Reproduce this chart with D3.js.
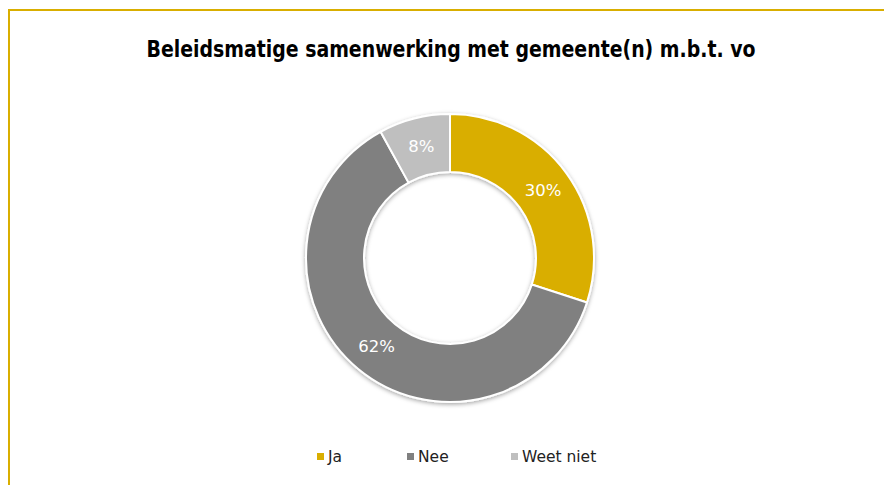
<!DOCTYPE html>
<html>
<head>
<meta charset="utf-8">
<script src="https://cdn.jsdelivr.net/npm/d3@7"></script>
<style>
  body { margin: 0; background: #fff; }
  svg { display: block; }
</style>
</head>
<body>
<div id="chart"></div>
<script>
// Chart data
const categories = ["Ja", "Nee", "Weet niet"];
const percentages = [30, 62, 8];
const colors = ["#D9AE00", "#808080", "#BFBFBF"];
const chartTitle = "Beleidsmatige samenwerking met gemeente(n) m.b.t. vo";

const width = 884, height = 485;

const svg = d3.select("#chart").append("svg")
  .attr("width", width)
  .attr("height", height);

// drop shadow like the office chart
const defs = svg.append("defs");
const filter = defs.append("filter").attr("id", "shadow")
  .attr("x", "-20%").attr("y", "-20%").attr("width", "140%").attr("height", "140%");
filter.append("feDropShadow")
  .attr("dx", 0).attr("dy", 1.5).attr("stdDeviation", 2)
  .attr("flood-color", "#000").attr("flood-opacity", 0.35);

// yellow frame (top and left)
svg.append("line")
  .attr("x1", 8.5).attr("x2", width).attr("y1", 10).attr("y2", 10)
  .attr("stroke", "#D9AE00").attr("stroke-width", 2);
svg.append("line")
  .attr("x1", 9).attr("x2", 9).attr("y1", 9).attr("y2", height)
  .attr("stroke", "#D9AE00").attr("stroke-width", 2);

// title (condensed look, squeezed to the reference width)
svg.append("text")
  .attr("x", 451).attr("y", 57)
  .attr("text-anchor", "middle")
  .attr("font-family", "'DejaVu Sans Condensed', 'DejaVu Sans', sans-serif")
  .attr("font-weight", "bold")
  .attr("font-size", 22.5)
  .attr("textLength", 609)
  .attr("lengthAdjust", "spacingAndGlyphs")
  .attr("fill", "#000")
  .text(chartTitle);

// donut
const cx = 450, cy = 258;
const outerR = 144, innerR = 86;

const data = categories.map((c, i) => ({ name: c, value: percentages[i], color: colors[i] }));

const pie = d3.pie().value(d => d.value).sort(null);
const arc = d3.arc().innerRadius(innerR).outerRadius(outerR);
const labelArc = d3.arc().innerRadius((innerR + outerR) / 2).outerRadius((innerR + outerR) / 2);

const g = svg.append("g").attr("transform", `translate(${cx},${cy})`);
const slices = g.append("g").attr("filter", "url(#shadow)");

slices.selectAll("path")
  .data(pie(data))
  .enter().append("path")
  .attr("d", arc)
  .attr("fill", d => d.data.color)
  .attr("stroke", "#fff")
  .attr("stroke-width", 2);

g.selectAll("text.lbl")
  .data(pie(data))
  .enter().append("text")
  .attr("class", "lbl")
  .attr("transform", d => `translate(${labelArc.centroid(d)})`)
  .attr("text-anchor", "middle")
  .attr("dy", "0.35em")
  .attr("font-family", "'DejaVu Sans', Verdana, sans-serif")
  .attr("font-size", 16.5)
  .attr("fill", "#fff")
  .text(d => d.data.value + "%");

// legend
const legendX = [317, 407, 511];
const legend = svg.append("g");
data.forEach((d, i) => {
  legend.append("rect")
    .attr("x", legendX[i]).attr("y", 453)
    .attr("width", 7).attr("height", 7)
    .attr("fill", d.color);
  legend.append("text")
    .attr("x", legendX[i] + 11).attr("y", 462)
    .attr("font-family", "'DejaVu Sans', Verdana, sans-serif")
    .attr("font-size", 15.5)
    .attr("fill", "#222")
    .text(d.name);
});
</script>
</body>
</html>
